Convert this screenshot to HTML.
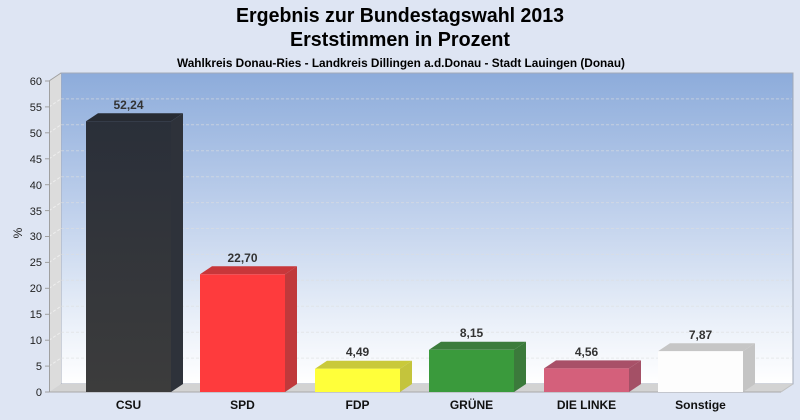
<!DOCTYPE html>
<html><head><meta charset="utf-8"><style>
html,body{margin:0;padding:0;background:#dee5f3;}
svg{display:block;font-family:"Liberation Sans",Arial,sans-serif;}
</style></head><body>
<svg width="800" height="420" viewBox="0 0 800 420" xmlns="http://www.w3.org/2000/svg">
<defs>
<linearGradient id="wall" x1="0" y1="73" x2="0" y2="384" gradientUnits="userSpaceOnUse">
<stop offset="0" stop-color="#8dacdb"/>
<stop offset="0.45" stop-color="#c0d1ec"/>
<stop offset="0.8" stop-color="#eaf0f9"/>
<stop offset="1" stop-color="#ffffff"/>
</linearGradient>
<linearGradient id="csu" x1="0" y1="121" x2="0" y2="392" gradientUnits="userSpaceOnUse">
<stop offset="0" stop-color="#2a2f39"/>
<stop offset="1" stop-color="#3c3c3c"/>
</linearGradient>
</defs>
<rect width="800" height="420" fill="#dee5f3"/>
<text x="400" y="22" text-anchor="middle" font-size="20" font-weight="bold" fill="#000" textLength="328" lengthAdjust="spacingAndGlyphs">Ergebnis zur Bundestagswahl 2013</text>
<text x="400" y="46" text-anchor="middle" font-size="20" font-weight="bold" fill="#000" textLength="220" lengthAdjust="spacingAndGlyphs">Erststimmen in Prozent</text>
<text x="401" y="67" text-anchor="middle" font-size="12" font-weight="bold" fill="#000" textLength="448" lengthAdjust="spacingAndGlyphs">Wahlkreis Donau-Ries - Landkreis Dillingen a.d.Donau - Stadt Lauingen (Donau)</text>
<!-- back wall -->
<rect x="61" y="73" width="732" height="311" fill="url(#wall)" stroke="#a3aab8" stroke-width="1"/>
<!-- left wall -->
<polygon points="49,81 61,73 61,384 49,392" fill="#dcdcdc"/>
<!-- floor -->
<polygon points="49,392 61,384 793,384 781,392" fill="#d3d3d3"/>
<line x1="49" y1="392" x2="781" y2="392" stroke="#a8a8a8"/>
<line x1="781" y1="392" x2="793" y2="384" stroke="#c0c0c0"/>
<!-- gridlines -->
<g stroke="#dedede" stroke-opacity="0.6" stroke-dasharray="3,2" stroke-width="1" fill="none">
<line x1="61" y1="358.1" x2="792" y2="358.1"/>
<line x1="61" y1="332.2" x2="792" y2="332.2"/>
<line x1="61" y1="306.3" x2="792" y2="306.3"/>
<line x1="61" y1="280.3" x2="792" y2="280.3"/>
<line x1="61" y1="254.4" x2="792" y2="254.4"/>
<line x1="61" y1="228.5" x2="792" y2="228.5"/>
<line x1="61" y1="202.6" x2="792" y2="202.6"/>
<line x1="61" y1="176.7" x2="792" y2="176.7"/>
<line x1="61" y1="150.8" x2="792" y2="150.8"/>
<line x1="61" y1="124.8" x2="792" y2="124.8"/>
<line x1="61" y1="98.9" x2="792" y2="98.9"/>
</g>
<g stroke="#eeeeee" stroke-dasharray="3,2" stroke-width="1" fill="none">
<line x1="49" y1="366.1" x2="61" y2="358.1"/>
<line x1="49" y1="340.2" x2="61" y2="332.2"/>
<line x1="49" y1="314.3" x2="61" y2="306.3"/>
<line x1="49" y1="288.3" x2="61" y2="280.3"/>
<line x1="49" y1="262.4" x2="61" y2="254.4"/>
<line x1="49" y1="236.5" x2="61" y2="228.5"/>
<line x1="49" y1="210.6" x2="61" y2="202.6"/>
<line x1="49" y1="184.7" x2="61" y2="176.7"/>
<line x1="49" y1="158.8" x2="61" y2="150.8"/>
<line x1="49" y1="132.8" x2="61" y2="124.8"/>
<line x1="49" y1="106.9" x2="61" y2="98.9"/>
</g>
<!-- axis -->
<line x1="49.5" y1="81" x2="49.5" y2="392" stroke="#a0a0a0"/>
<line x1="49" y1="81" x2="61" y2="73" stroke="#a0a0a0"/>
<g stroke="#a0a0a0">
<line x1="45" y1="392" x2="49" y2="392"/>
<line x1="45" y1="366.1" x2="49" y2="366.1"/>
<line x1="45" y1="340.2" x2="49" y2="340.2"/>
<line x1="45" y1="314.3" x2="49" y2="314.3"/>
<line x1="45" y1="288.3" x2="49" y2="288.3"/>
<line x1="45" y1="262.4" x2="49" y2="262.4"/>
<line x1="45" y1="236.5" x2="49" y2="236.5"/>
<line x1="45" y1="210.6" x2="49" y2="210.6"/>
<line x1="45" y1="184.7" x2="49" y2="184.7"/>
<line x1="45" y1="158.8" x2="49" y2="158.8"/>
<line x1="45" y1="132.8" x2="49" y2="132.8"/>
<line x1="45" y1="106.9" x2="49" y2="106.9"/>
<line x1="45" y1="81" x2="49" y2="81"/>
</g>
<g font-size="11" fill="#222" text-anchor="end">
<text x="42" y="396">0</text>
<text x="42" y="370">5</text>
<text x="42" y="344">10</text>
<text x="42" y="318">15</text>
<text x="42" y="292">20</text>
<text x="42" y="266">25</text>
<text x="42" y="240">30</text>
<text x="42" y="215">35</text>
<text x="42" y="189">40</text>
<text x="42" y="163">45</text>
<text x="42" y="137">50</text>
<text x="42" y="111">55</text>
<text x="42" y="85">60</text>
</g>
<text x="22" y="233" font-size="12" fill="#222" text-anchor="middle" transform="rotate(-90 22 233)">%</text>
<!-- bars -->
<!-- CSU -->
<polygon points="86,121.2 98,113.2 183,113.2 171,121.2" fill="#272b33"/>
<polygon points="171,121.2 183,113.2 183,384 171,392" fill="#2e323a"/>
<rect x="86" y="121.2" width="85" height="270.8" fill="url(#csu)"/>
<!-- SPD -->
<polygon points="200,274.3 212,266.3 297,266.3 285,274.3" fill="#c8373a"/>
<polygon points="285,274.3 297,266.3 297,384 285,392" fill="#c0393b"/>
<rect x="200" y="274.3" width="85" height="117.7" fill="#fe3b3d"/>
<!-- FDP -->
<polygon points="315,368.7 327,360.7 412,360.7 400,368.7" fill="#c9c93a"/>
<polygon points="400,368.7 412,360.7 412,384 400,392" fill="#c4c43c"/>
<rect x="315" y="368.7" width="85" height="23.3" fill="#ffff3a"/>
<!-- GRÜNE -->
<polygon points="429,349.8 441,341.8 526,341.8 514,349.8" fill="#3c7c3c"/>
<polygon points="514,349.8 526,341.8 526,384 514,392" fill="#3b7a3b"/>
<rect x="429" y="349.8" width="85" height="42.2" fill="#3a9a3c"/>
<!-- DIE LINKE -->
<polygon points="544,368.4 556,360.4 641,360.4 629,368.4" fill="#a85068"/>
<polygon points="629,368.4 641,360.4 641,384 629,392" fill="#a45066"/>
<rect x="544" y="368.4" width="85" height="23.6" fill="#d4607b"/>
<!-- Sonstige -->
<polygon points="658,351.2 670,343.2 755,343.2 743,351.2" fill="#c6c6c6"/>
<polygon points="743,351.2 755,343.2 755,384 743,392" fill="#c4c4c4"/>
<rect x="658" y="351.2" width="85" height="40.8" fill="#fdfdfd"/>
<!-- value labels -->
<g font-size="12" font-weight="bold" fill="#333" text-anchor="middle">
<text x="128.5" y="109">52,24</text>
<text x="242.5" y="262">22,70</text>
<text x="357.5" y="356">4,49</text>
<text x="471.5" y="337">8,15</text>
<text x="586.5" y="356">4,56</text>
<text x="700.5" y="339">7,87</text>
</g>
<g font-size="12" font-weight="bold" fill="#111" text-anchor="middle">
<text x="128.5" y="409">CSU</text>
<text x="242.5" y="409">SPD</text>
<text x="357.5" y="409">FDP</text>
<text x="471.5" y="409">GRÜNE</text>
<text x="586.5" y="409">DIE LINKE</text>
<text x="700.5" y="409">Sonstige</text>
</g>
</svg>
</body></html>
